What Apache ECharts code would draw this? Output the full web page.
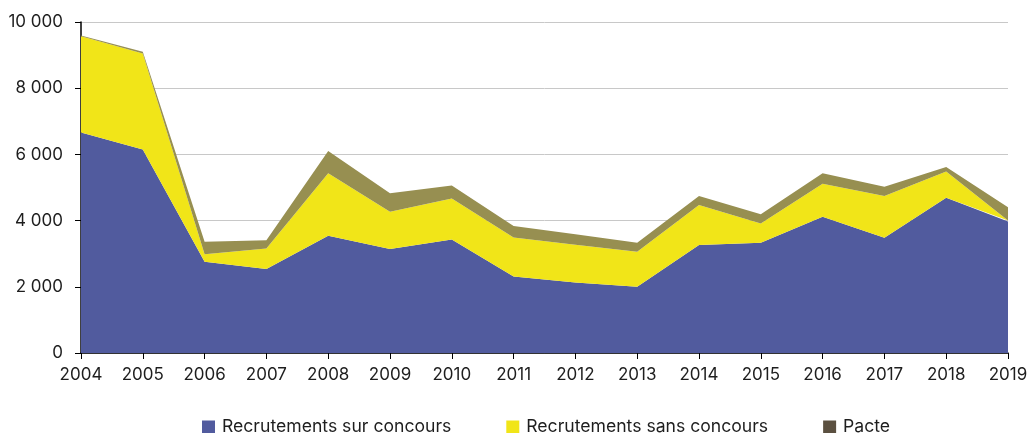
<!DOCTYPE html>
<html>
<head>
<meta charset="utf-8">
<script src="https://cdn.jsdelivr.net/npm/echarts@6/dist/echarts.min.js"></script>
<style>
html,body{margin:0;padding:0;background:#fff;}
#chart{width:1031px;height:433px;}
</style>
</head>
<body>
<div id="chart"></div>
<script>
const years = ['2004','2005','2006','2007','2008','2009','2010','2011','2012','2013','2014','2015','2016','2017','2018','2019'];
const surConcours = [6660,6150,2760,2540,3540,3140,3430,2310,2130,2000,3260,3330,4120,3480,4690,3970];
const sansConcours = [2910,2900,220,620,1890,1130,1240,1180,1140,1060,1210,580,990,1260,790,30];
const pacte = [20,50,380,250,670,560,390,350,320,270,270,280,320,280,140,400];
const seriesNames = ['Recrutements sur concours','Recrutements sans concours','Pacte'];

const font = 'Inter, "Noto Sans", sans-serif';
const chart = echarts.init(document.getElementById('chart'));
function fmt(v){ return String(v).replace(/\B(?=(\d{3})+(?!\d))/g, ' '); }
function areaSeries(name, data, legendColor, areaColor){
  return {
    name: name, type: 'line', stack: 'total', data: data,
    symbol: 'none', smooth: false,
    lineStyle: {width: 0, color: areaColor},
    itemStyle: {color: legendColor},
    areaStyle: {color: areaColor, opacity: 1},
    emphasis: {disabled: true}
  };
}
chart.setOption({
  animation: false,
  grid: {left: 81, right: 23, top: 22, bottom: 80},
  legend: {
    top: 418, left: 202, padding: [0, 0, 0, 0],
    icon: 'rect', itemWidth: 13, itemHeight: 13, itemGap: 55,
    textStyle: {fontFamily: font, fontSize: 17.6, color: '#1e1e1e', padding: [0, 0, 0, 2]},
    data: seriesNames
  },
  xAxis: {
    type: 'category', data: years, boundaryGap: false,
    axisLine: {lineStyle: {color: '#000', width: 1.5}},
    axisTick: {show: true, alignWithLabel: true, length: 6, lineStyle: {color: '#000'}},
    axisLabel: {fontFamily: font, fontSize: 17, color: '#1e1e1e', margin: 13, interval: 0},
    splitLine: {show: false}
  },
  yAxis: {
    type: 'value', min: 0, max: 10000, interval: 2000,
    axisLine: {show: true, lineStyle: {color: '#000', width: 1.5}},
    axisTick: {show: true, length: 6, lineStyle: {color: '#000'}},
    axisLabel: {fontFamily: font, fontSize: 17, color: '#1e1e1e', margin: 18, formatter: fmt},
    splitLine: {show: true, lineStyle: {color: '#c8c8c8', width: 1}}
  },
  series: [
    areaSeries(seriesNames[0], surConcours, '#515b9e', '#515b9e'),
    areaSeries(seriesNames[1], sansConcours, '#f1e518', '#f1e518'),
    areaSeries(seriesNames[2], pacte, '#5b5040', '#978f51')
  ]
});
</script>
</body>
</html>
